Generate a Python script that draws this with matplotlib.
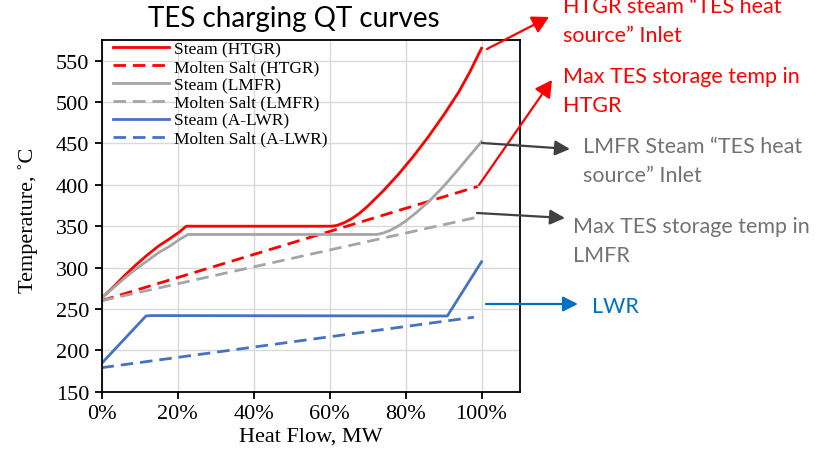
import matplotlib
matplotlib.use("Agg")
import matplotlib.pyplot as plt
from matplotlib.ticker import PercentFormatter

# ---------------- data ----------------
x_steam_htgr = [0.0, 0.03, 0.06, 0.09, 0.12, 0.15, 0.18, 0.205, 0.223, 0.607, 0.62, 0.64, 0.66,
                0.68, 0.70, 0.74, 0.78, 0.82, 0.86, 0.90, 0.94, 0.97, 1.00]
t_steam_htgr = [263, 276, 290, 303, 315, 326, 335, 343, 350, 350, 351, 354.5, 359.5,
                366, 374, 392, 412, 434, 458, 484, 512, 537, 565]

x_salt_htgr = [0.0, 0.99]
t_salt_htgr = [260, 398]

x_steam_lmfr = [0.0, 0.03, 0.06, 0.09, 0.12, 0.15, 0.18, 0.205, 0.228, 0.724, 0.74, 0.76, 0.78,
                0.80, 0.83, 0.864, 0.90, 0.934, 0.965, 1.00]
t_steam_lmfr = [263, 275, 287, 298, 308, 318, 326, 334, 340, 340, 341.5, 345, 350,
                356, 367, 381, 398, 416, 433, 452]

x_salt_lmfr = [0.0, 0.99]
t_salt_lmfr = [260, 361]

x_steam_lwr = [0.0, 0.117, 0.13, 0.91, 1.00]
t_steam_lwr = [184, 241.5, 242, 241.5, 307]

x_salt_lwr = [0.0, 0.98]
t_salt_lwr = [179, 240]

labels = ["Steam (HTGR)", "Molten Salt (HTGR)", "Steam (LMFR)",
          "Molten Salt (LMFR)", "Steam (A-LWR)", "Molten Salt (A-LWR)"]

x_ticks = [0.0, 0.2, 0.4, 0.6, 0.8, 1.0]
y_ticks = [150, 200, 250, 300, 350, 400, 450, 500, 550]

title = "TES charging QT curves"
xlabel = "Heat Flow, MW"
ylabel = "Temperature, \u02daC"

ann_htgr_inlet = ["HTGR steam \u201cTES heat", "source\u201d Inlet"]
ann_htgr_max = ["Max TES storage temp in", "HTGR"]
ann_lmfr_inlet = ["LMFR Steam \u201cTES heat", "source\u201d Inlet"]
ann_lmfr_max = ["Max TES storage temp in", "LMFR"]
ann_lwr = ["LWR"]

# ---------------- style ----------------
RED = "#FF0000"
GRAY = "#A5A5A5"
BLUE = "#4472C4"
TXT_GRAY = "#767171"
ARR_GRAY = "#404040"
LWR_BLUE = "#0070C0"
SERIF = ["Liberation Serif", "DejaVu Serif"]
SANS = ["Lato", "DejaVu Sans"]

W, H = 818, 456
fig = plt.figure(figsize=(W / 100, H / 100), dpi=100)

def fx(px):
    return px / W

def fy(py):
    return 1 - py / H

ax = fig.add_axes([fx(101.5), fy(392.7), fx(519.5) - fx(101.5), fy(41) - fy(392.7)])

lw = 2.0
dash = (4.5, 2.5)
ax.plot(x_steam_htgr, t_steam_htgr, color=RED, lw=lw, label=labels[0], solid_joinstyle="round")
ax.plot(x_salt_htgr, t_salt_htgr, color=RED, lw=lw, dashes=dash, label=labels[1])
ax.plot(x_steam_lmfr, t_steam_lmfr, color=GRAY, lw=lw, label=labels[2], solid_joinstyle="round")
ax.plot(x_salt_lmfr, t_salt_lmfr, color=GRAY, lw=lw, dashes=dash, label=labels[3])
ax.plot(x_steam_lwr, t_steam_lwr, color=BLUE, lw=lw, label=labels[4], solid_joinstyle="round")
ax.plot(x_salt_lwr, t_salt_lwr, color=BLUE, lw=lw, dashes=dash, label=labels[5])

ax.set_xlim(0, 1.1)
ax.set_ylim(150, 575)
ax.set_xticks(x_ticks)
ax.set_yticks(y_ticks)
ax.xaxis.set_major_formatter(PercentFormatter(1.0, decimals=0))
ax.grid(True, color="#D9D9D9", lw=1.0)
ax.set_axisbelow(True)
for sp in ax.spines.values():
    sp.set_color("black")
    sp.set_linewidth(1.3)
ax.tick_params(axis="both", direction="out", length=5, width=1.3, labelsize=16, pad=4)
for t in ax.get_xticklabels() + ax.get_yticklabels():
    t.set_family(SERIF)

ax.set_xlabel(xlabel, fontsize=16, family=SERIF)
ax.set_ylabel(ylabel, fontsize=16, family=SERIF)
ax.xaxis.set_label_coords(0.5, -0.1)
ax.yaxis.set_label_coords(-0.152, 0.491)

leg = ax.legend(loc="upper left", bbox_to_anchor=(fx(113), fy(42)), bbox_transform=fig.transFigure,
                frameon=False, prop={"family": SERIF, "size": 12.5}, handlelength=3.2,
                handletextpad=0.3, labelspacing=0.1, borderpad=0, borderaxespad=0)

fig.text(fx(148), fy(27), title, fontsize=20, family=SANS, ha="left", va="baseline")

def lines_text(x, y0, lines, color, size=15.5, step=29):
    for i, s in enumerate(lines):
        fig.text(fx(x), fy(y0 + i * step), s, color=color, fontsize=size, family=SANS,
                 ha="left", va="baseline")

lines_text(563, 13, ann_htgr_inlet, RED)
lines_text(563, 83, ann_htgr_max, RED)
lines_text(583, 153, ann_lmfr_inlet, TXT_GRAY)
lines_text(573, 233, ann_lmfr_max, TXT_GRAY)
lines_text(592, 313, ann_lwr, LWR_BLUE)

def arrow(x0, y0, x1, y1, color, hl=1.0, hw=0.55):
    ax.annotate("", xy=(x1, H - y1), xycoords="figure pixels",
                xytext=(x0, H - y0), textcoords="figure pixels",
                arrowprops=dict(arrowstyle=f"-|>,head_length={hl},head_width={hw}",
                                color=color, lw=1.6, shrinkA=0, shrinkB=0),
                annotation_clip=False)

arrow(487, 50, 549, 18, RED)
arrow(479, 186, 552, 81, RED)
arrow(482, 144, 570, 150, ARR_GRAY, hl=0.9, hw=0.45)
arrow(477, 214, 565, 219, ARR_GRAY, hl=0.9, hw=0.45)
arrow(486, 305, 578, 305, LWR_BLUE, hl=0.9, hw=0.45)

fig.savefig("out.png", dpi=100)
